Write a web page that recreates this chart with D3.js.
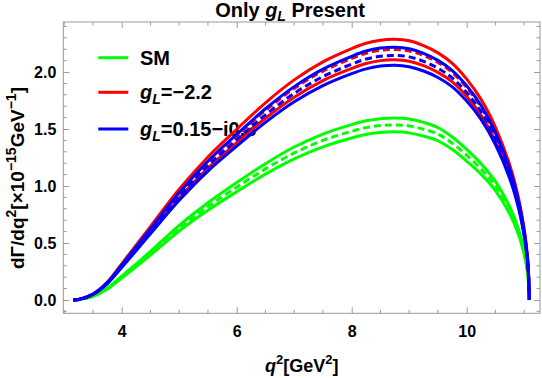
<!DOCTYPE html>
<html>
<head>
<meta charset="utf-8">
<script src="https://cdn.jsdelivr.net/npm/d3@7"></script>
<style>
  html, body { margin: 0; padding: 0; background: #fff; }
  svg { display: block; font-family: "Liberation Sans", Arial, sans-serif; }
</style>
</head>
<body>
<div class="chart"></div>
<script>
const q2 = [3.16, 3.25, 3.5, 3.75, 4, 4.5, 5, 5.5, 6, 6.5, 7, 7.5, 8, 8.25, 8.5, 8.75, 9, 9.25, 9.5, 9.75, 10, 10.25, 10.5, 10.75, 10.9, 11.0, 11.05, 11.07, 11.09]

// SM band
const smUpper = [0, 0.003, 0.034, 0.104, 0.208, 0.426, 0.655, 0.853, 1.03, 1.196, 1.342, 1.456, 1.539, 1.572, 1.591, 1.597, 1.588, 1.558, 1.513, 1.43, 1.321, 1.196, 1.04, 0.816, 0.624, 0.432, 0.289, 0.204, 0]
const smCentral = [0, 0.003, 0.033, 0.1, 0.2, 0.41, 0.63, 0.82, 0.99, 1.15, 1.29, 1.40, 1.48, 1.512, 1.53, 1.536, 1.527, 1.498, 1.455, 1.375, 1.27, 1.15, 1.0, 0.785, 0.6, 0.415, 0.278, 0.196, 0]
const smLower = [0, 0.003, 0.032, 0.096, 0.192, 0.394, 0.605, 0.787, 0.95, 1.104, 1.238, 1.344, 1.421, 1.452, 1.469, 1.475, 1.466, 1.438, 1.397, 1.32, 1.219, 1.104, 0.96, 0.754, 0.576, 0.398, 0.267, 0.188, 0]

// g_L = -2.2 band
const realUpper = [0, 0.004, 0.053, 0.158, 0.317, 0.644, 0.971, 1.255, 1.498, 1.73, 1.931, 2.089, 2.205, 2.252, 2.279, 2.287, 2.274, 2.231, 2.168, 2.076, 1.938, 1.76, 1.515, 1.182, 0.897, 0.622, 0.417, 0.295, 0]
const realCentral = [0, 0.004, 0.051, 0.152, 0.304, 0.619, 0.933, 1.207, 1.44, 1.663, 1.856, 2.008, 2.119, 2.165, 2.19, 2.198, 2.185, 2.145, 2.084, 1.996, 1.863, 1.691, 1.456, 1.136, 0.862, 0.598, 0.401, 0.284, 0]
const realLower = [0, 0.004, 0.049, 0.146, 0.292, 0.593, 0.894, 1.157, 1.38, 1.594, 1.779, 1.925, 2.031, 2.075, 2.1, 2.107, 2.095, 2.056, 1.997, 1.913, 1.786, 1.621, 1.396, 1.089, 0.826, 0.573, 0.384, 0.272, 0]

// g_L = 0.15 - i0.3 band
const cplxUpper = [0, 0.004, 0.051, 0.153, 0.307, 0.624, 0.941, 1.217, 1.453, 1.678, 1.872, 2.026, 2.138, 2.184, 2.21, 2.218, 2.205, 2.164, 2.102, 2.013, 1.879, 1.706, 1.469, 1.146, 0.87, 0.604, 0.404, 0.286, 0]
const cplxCentral = [0, 0.004, 0.05, 0.149, 0.297, 0.604, 0.911, 1.178, 1.406, 1.624, 1.812, 1.96, 2.069, 2.114, 2.138, 2.146, 2.133, 2.094, 2.034, 1.948, 1.819, 1.651, 1.422, 1.109, 0.842, 0.584, 0.391, 0.277, 0]
const cplxLower = [0, 0.004, 0.048, 0.143, 0.285, 0.58, 0.874, 1.131, 1.349, 1.558, 1.739, 1.881, 1.986, 2.028, 2.052, 2.06, 2.047, 2.009, 1.952, 1.87, 1.745, 1.585, 1.364, 1.064, 0.808, 0.561, 0.375, 0.266, 0]

const xTicks = [4, 6, 8, 10]
const yTicks = [0, 0.5, 1, 1.5, 2]

const width = 542
const height = 378
const frame = { left: 63.3, right: 540, top: 22, bottom: 313.3 }

const svg = d3.select(".chart").append("svg").attr("width", width).attr("height", height)

const xScale = d3.scaleLinear().domain([2.984, 11.275]).range([frame.left, frame.right])
const yScale = d3.scaleLinear().domain([-0.117, 2.439]).range([frame.bottom, frame.top])

const green = "#00ff00"
const red = "#ff0000"
const blue = "#0000ff"

// legend goes under the curves
const legendItems = [
  { color: green, y: 57.7, label: [["SM", null]] },
  { color: red, y: 92.3, label: [["g", "i"], ["L", "sub"], ["=\u22122.2", null]] },
  { color: blue, y: 129, label: [["g", "i"], ["L", "sub"], ["=0.15\u2212i0.3", null]] }
]
const legend = svg.append("g")
legendItems.forEach(item => {
  legend.append("line").attr("x1", 98.3).attr("x2", 128.3).attr("y1", item.y).attr("y2", item.y)
    .attr("stroke", item.color).attr("stroke-width", 3)
  const t = legend.append("text").attr("x", 140).attr("y", item.y + 7)
    .attr("font-size", 20).attr("font-weight", "bold")
  let shifted = false
  item.label.forEach(([s, kind]) => {
    const sp = t.append("tspan").text(s)
    if (kind === "i") sp.attr("font-style", "italic")
    if (kind === "sub") { sp.attr("font-style", "italic").attr("font-size", 14).attr("dy", 5); shifted = true }
    else if (shifted) { sp.attr("dy", -5); shifted = false }
  })
})

// curves: green first, then red, blue on top
const series = [
  { values: smUpper, color: green, dash: null },
  { values: smCentral, color: green, dash: "7,4" },
  { values: smLower, color: green, dash: null },
  { values: realUpper, color: red, dash: null },
  { values: realCentral, color: red, dash: "7,4" },
  { values: realLower, color: red, dash: null },
  { values: cplxUpper, color: blue, dash: null },
  { values: cplxCentral, color: blue, dash: "7,4" },
  { values: cplxLower, color: blue, dash: null }
]

const line = d3
  .line()
  .x(d => xScale(d[0]))
  .y(d => yScale(d[1]))
  .curve(d3.curveCatmullRom.alpha(0.5))

const plot = svg.append("g")
plot
  .selectAll("path.curve")
  .data(series)
  .enter()
  .append("path")
  .attr("class", "curve")
  .attr("fill", "none")
  .attr("stroke", d => d.color)
  .attr("stroke-width", 3)
  .attr("stroke-dasharray", d => d.dash)
  .attr("d", d => line(q2.map((q, i) => [q, d.values[i]])))

// frame with inward ticks on all sides
const frameColor = "#9a9a9a"
const axes = svg.append("g")

const xMinor = d3.range(3, 11.01, 0.5).filter(v => !xTicks.includes(v))
const yMinor = d3.range(-0.1, 2.41, 0.1).map(v => +v.toFixed(1)).filter(v => !yTicks.includes(v))

const bottomAxis = d3.axisBottom(xScale).tickValues(xTicks).tickSize(-6).tickFormat(d3.format("d"))
const topAxis = d3.axisTop(xScale).tickValues(xTicks).tickSize(-6).tickFormat("")
const leftAxis = d3.axisLeft(yScale).tickValues(yTicks).tickSize(-6).tickFormat(d3.format(".1f"))
const rightAxis = d3.axisRight(yScale).tickValues(yTicks).tickSize(-6).tickFormat("")

const styleAxis = g => {
  g.select(".domain").remove()
  g.selectAll("line").attr("stroke", frameColor)
  g.selectAll("text").attr("fill", "#000").attr("font-weight", "bold").attr("font-size", 16)
    .attr("font-family", "Liberation Sans, Arial, sans-serif")
}

axes.append("g").attr("transform", `translate(0,${frame.bottom})`).call(bottomAxis).call(styleAxis)
  .selectAll("text").attr("dy", "1.3em")
axes.append("g").attr("transform", `translate(0,${frame.top})`).call(topAxis).call(styleAxis)
axes.append("g").attr("transform", `translate(${frame.left},0)`).call(leftAxis).call(styleAxis)
  .selectAll("text").attr("x", -7)
axes.append("g").attr("transform", `translate(${frame.right},0)`).call(rightAxis).call(styleAxis)

const minorX = (y0, dir) => axes.append("g").selectAll("line").data(xMinor).enter().append("line")
  .attr("x1", d => xScale(d)).attr("x2", d => xScale(d))
  .attr("y1", y0).attr("y2", y0 + dir * 3.5).attr("stroke", frameColor)
const minorY = (x0, dir) => axes.append("g").selectAll("line").data(yMinor).enter().append("line")
  .attr("y1", d => yScale(d)).attr("y2", d => yScale(d))
  .attr("x1", x0).attr("x2", x0 + dir * 3.5).attr("stroke", frameColor)
minorX(frame.bottom, -1)
minorX(frame.top, 1)
minorY(frame.left, 1)
minorY(frame.right, -1)

axes.append("rect")
  .attr("x", frame.left).attr("y", frame.top)
  .attr("width", frame.right - frame.left).attr("height", frame.bottom - frame.top)
  .attr("fill", "none").attr("stroke", frameColor).attr("stroke-width", 1)

// title
const title = svg.append("text").attr("x", 290).attr("y", 17).attr("text-anchor", "middle")
  .attr("font-size", 20).attr("font-weight", "bold")
title.append("tspan").text("Only ")
title.append("tspan").attr("font-style", "italic").text("g")
title.append("tspan").attr("font-style", "italic").attr("font-size", 14).attr("dy", 4).text("L")
title.append("tspan").attr("dy", -4).text(" Present")

// axis labels
const xLabel = svg.append("text").attr("x", (frame.left + frame.right) / 2).attr("y", 372)
  .attr("text-anchor", "middle").attr("font-size", 18).attr("font-weight", "bold")
xLabel.append("tspan").attr("font-style", "italic").text("q")
xLabel.append("tspan").attr("font-size", 13).attr("dy", -8).text("2")
xLabel.append("tspan").attr("dy", 8).text("[GeV")
xLabel.append("tspan").attr("font-size", 13).attr("dy", -8).text("2")
xLabel.append("tspan").attr("dy", 8).text("]")

const yLabel = svg.append("text")
  .attr("transform", `translate(24,178) rotate(-90)`)
  .attr("text-anchor", "middle").attr("font-size", 19).attr("font-weight", "bold")
yLabel.append("tspan").text("d\u0393/dq")
yLabel.append("tspan").attr("font-size", 14).attr("dy", -8).text("2")
yLabel.append("tspan").attr("dy", 8).text("[\u00d710")
yLabel.append("tspan").attr("font-size", 14).attr("dy", -8).text("\u221215")
yLabel.append("tspan").attr("dy", 8).text("GeV")
yLabel.append("tspan").attr("font-size", 14).attr("dy", -8).text("\u22121")
yLabel.append("tspan").attr("dy", 8).text("]")
</script>
</body>
</html>
